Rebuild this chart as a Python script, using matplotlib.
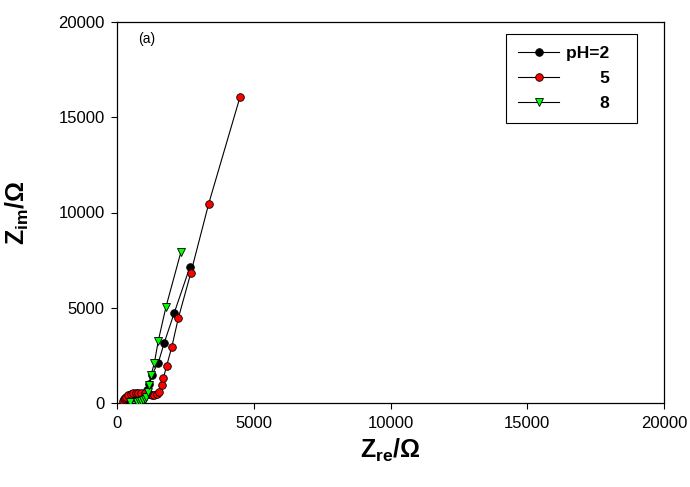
import matplotlib
matplotlib.use('Agg')
import matplotlib.pyplot as plt

# Nyquist data (Z_re, Z_im in ohm)
ph2_re = [270, 333, 446, 581, 713, 845, 976, 1064, 1108, 1170, 1269, 1510, 1729, 2095, 2669]
ph2_im = [50, 130, 250, 330, 380, 400, 420, 500, 700, 1000, 1470, 2115, 3166, 4740, 7155]

ph5_re = [230, 263, 293, 344, 413, 494, 596, 687, 779, 888, 1024, 1152, 1269, 1371, 1452,
          1536, 1634, 1693, 1817, 2000, 2241, 2695, 3353, 4497]
ph5_im = [123, 190, 246, 330, 404, 470, 509, 535, 541, 530, 509, 470, 420, 430, 455,
          595, 945, 1295, 1960, 2923, 4446, 6808, 10462, 16060]

ph8_re = [475, 739, 808, 881, 951, 1020, 1075, 1122, 1170, 1243, 1364, 1510, 1792, 2340]
ph8_im = [68, 60, 90, 130, 170, 230, 330, 593, 945, 1470, 2084, 3270, 5055, 7942]

labels = ['pH=2   ', '       5   ', '       8   ']
x_ticks = [0, 5000, 10000, 15000, 20000]
y_ticks = [0, 5000, 10000, 15000, 20000]

plt.rcParams['font.family'] = 'Liberation Sans'
plt.rcParams['mathtext.fontset'] = 'custom'
plt.rcParams['mathtext.rm'] = 'Liberation Sans'
plt.rcParams['mathtext.bf'] = 'Liberation Sans:bold'

fig = plt.figure(figsize=(6.9, 4.87), dpi=100)
ax = fig.add_axes([117 / 690, 84 / 487, 547 / 690, 381 / 487])

ax.plot(ph2_re, ph2_im, color='black', lw=0.8, marker='o', ms=5.5,
        mfc='black', mec='black', mew=0.6, label=labels[0], zorder=2)
ax.plot(ph5_re, ph5_im, color='black', lw=0.8, marker='o', ms=5.5,
        mfc='#ff0000', mec='black', mew=0.6, label=labels[1], zorder=3)
ax.plot(ph8_re, ph8_im, color='black', lw=0.8, marker='v', ms=6,
        mfc='#00ff00', mec='black', mew=0.6, label=labels[2], zorder=4)

ax.set_xlim(0, 20000)
ax.set_ylim(0, 20000)
ax.set_xticks(x_ticks)
ax.set_yticks(y_ticks)
ax.tick_params(direction='out', length=4, width=0.8, labelsize=12, top=False, right=False)
ax.tick_params(axis='x', pad=5)
ax.tick_params(axis='y', pad=5)
for s in ax.spines.values():
    s.set_linewidth(0.9)

ax.set_xlabel(r'$\mathbf{Z_{re}/\Omega}$', fontsize=18, va='top')
ax.set_ylabel(r'$\mathbf{Z_{im}/\Omega}$', fontsize=18)
ax.xaxis.set_label_coords(0.5, -0.09)
ax.yaxis.set_label_coords(-0.158, 0.5)

ax.text(0.038, 0.955, '(a)', transform=ax.transAxes, fontsize=10, va='center')

leg = ax.legend(loc='upper right', bbox_to_anchor=(0.9507, 0.9685), frameon=True,
                fancybox=False, edgecolor='black', framealpha=1,
                prop={'weight': 'bold', 'size': 12.5}, handlelength=2.4,
                handletextpad=0.4, borderpad=0.7, labelspacing=0.55, borderaxespad=0)
leg.get_frame().set_linewidth(0.8)

fig.savefig('out.png', dpi=100, facecolor='white')
